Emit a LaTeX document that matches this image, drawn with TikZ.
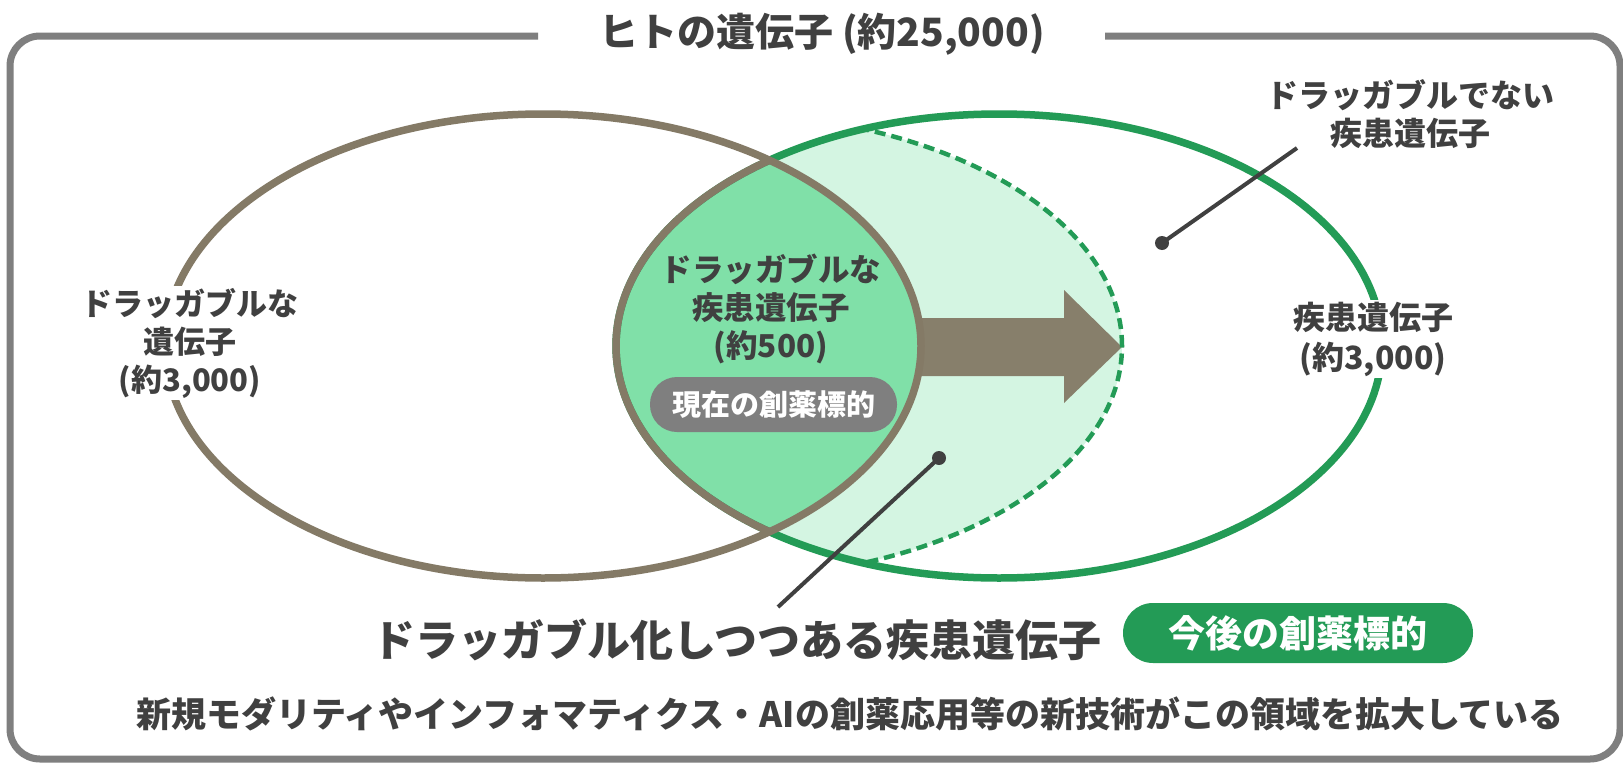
\documentclass[tikz,border=0pt]{standalone}
\usepackage{fontspec}
\setmainfont{Noto Sans CJK JP}
\definecolor{txt}{HTML}{404040}
\definecolor{framegray}{HTML}{7F7F7F}
\definecolor{brownc}{HTML}{847A66}
\definecolor{arrowc}{HTML}{877F6B}
\definecolor{greenc}{HTML}{239B56}
\definecolor{lensc}{HTML}{80E0A8}
\definecolor{lightc}{HTML}{D4F5E2}
\tikzset{
  frameline/.style={draw=framegray, line width=7pt, rounded corners=30pt},
  label/.style={text=txt, font=\bfseries\fontsize{31}{38}\selectfont, align=center, inner sep=2pt},
  pointer/.style={draw=txt, line width=4pt},
  dotc/.style={fill=txt},
  pill/.style={text=white, font=\bfseries\fontsize{29}{34}\selectfont, rounded corners=27pt, inner sep=0pt},
}
\begin{document}
\begin{tikzpicture}[x=1pt,y=-1pt]
\useasboundingbox[fill=white] (0,0) rectangle (1623,763);
% frame with gap for title
\draw[frameline] (538,36) -- (10,36) -- (10,759) -- (1620,759) -- (1620,36) -- (1105,36);
\node[text=txt, font=\bfseries\fontsize{39}{42}\selectfont] (title) at (822,34) {ヒトの遺伝子 (約25,000)};
% light region
\begin{scope}
  \clip (999,346) ellipse [x radius=383pt, y radius=232pt];
  \fill[lightc] (721,346) ellipse [x radius=401pt, y radius=232pt];
\end{scope}
% lens
\begin{scope}
  \clip (543,346) ellipse [x radius=378pt, y radius=232pt];
  \fill[lensc] (999,346) ellipse [x radius=383pt, y radius=232pt];
\end{scope}
% arrow
\fill[arrowc] (920,318) -- (1064,318) -- (1064,290) -- (1122,347) -- (1064,403) -- (1064,376) -- (920,376) -- cycle;
% dashed boundary
\begin{scope}
  \clip (999,346) ellipse [x radius=383pt, y radius=232pt];
  \draw[greenc, line width=4.5pt, dash pattern=on 11pt off 6pt] (721,346) ellipse [x radius=401pt, y radius=232pt];
\end{scope}
% right ellipse outline
\draw[greenc, line width=7.5pt] (999,346) ellipse [x radius=383pt, y radius=232pt];
\begin{scope}
  \clip (543,346) ellipse [x radius=378pt, y radius=232pt];
  \draw[brownc, line width=7.5pt] (999,346) ellipse [x radius=383pt, y radius=232pt];
\end{scope}
% left ellipse outline
\draw[brownc, line width=7.5pt] (543,346) ellipse [x radius=378pt, y radius=232pt];
% labels
\node[label, fill=white] (drug) at (190,343) {ドラッガブルな\\遺伝子\\(約3,000)};
\node[label, fill=white, font=\bfseries\fontsize{32}{40}\selectfont] (dis) at (1373,339) {疾患遺伝子\\(約3,000)};
\node[label, font=\bfseries\fontsize{32}{37.5}\selectfont] (nondrug) at (1410,114) {ドラッガブルでない\\疾患遺伝子};
\node[label, font=\bfseries\fontsize{31.5}{38}\selectfont] (lens) at (771,309) {ドラッガブルな\\疾患遺伝子\\(約500)};
\node[pill, fill=framegray, minimum width=247pt, minimum height=55pt] (cur) at (773.5,404.5) {現在の創薬標的};
\node[pill, fill=greenc, minimum width=350pt, minimum height=60pt, rounded corners=30pt, font=\bfseries\fontsize{37}{42}\selectfont] (fut) at (1298,633) {今後の創薬標的};
\node[text=txt, font=\bfseries\fontsize{43}{46}\selectfont, inner sep=0pt] (becoming) at (737,640) {ドラッガブル化しつつある疾患遺伝子};
\node[text=txt, font=\bfseries\fontsize{35}{40}\selectfont, inner sep=0pt] (note) at (850,714) {新規モダリティやインフォマティクス・AIの創薬応用等の新技術がこの領域を拡大している};
% pointers
\coordinate (d1) at (1162,243);
\coordinate (p1) at (1297,148);
\draw[pointer] (d1) -- (p1);
\fill[dotc] (d1) circle[radius=7pt];
\coordinate (d2) at (939,458);
\coordinate (p2) at (778,607);
\draw[pointer] (d2) -- (p2);
\fill[dotc] (d2) circle[radius=7pt];
\end{tikzpicture}
\end{document}
